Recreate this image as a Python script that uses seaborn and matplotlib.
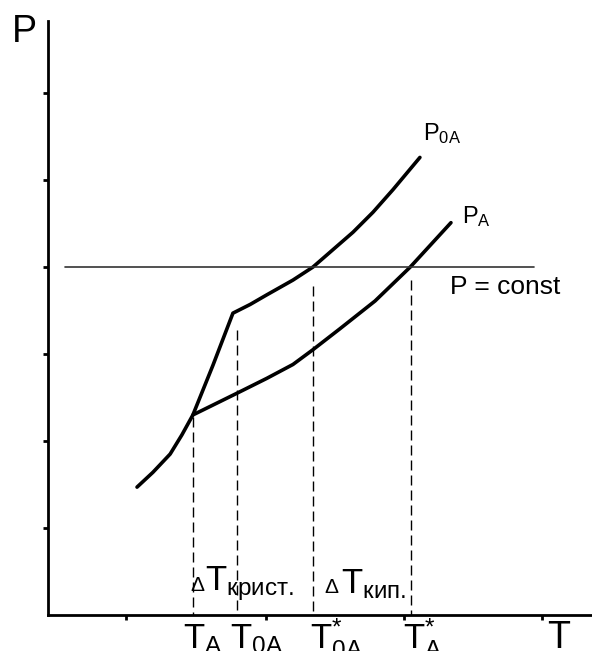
import numpy as np
import pandas as pd
import matplotlib
matplotlib.use("Agg")
import matplotlib.pyplot as plt
import seaborn as sns

# ==========================================
# DATA (T and P in arbitrary units)
# ==========================================

# solution vapour pressure curve P_A (includes the common low branch)
t_pa = [1.29, 1.52, 1.77, 1.94, 2.10, 2.74, 3.17, 3.55, 3.84, 4.23, 4.74, 5.25, 5.84]
p_pa = [1.47, 1.64, 1.85, 2.07, 2.30, 2.55, 2.72, 2.88, 3.05, 3.29, 3.61, 4.00, 4.51]

# pure solvent curve P_0A (starts from the branch point)
t_p0a = [2.10, 2.39, 2.68, 2.93, 3.17, 3.55, 3.84, 4.13, 4.42, 4.71, 5.00, 5.39]
p_p0a = [2.30, 2.87, 3.47, 3.57, 3.68, 3.85, 4.00, 4.20, 4.40, 4.63, 4.89, 5.26]

# P = const level and its extent
p_const = 4.0
t_const = [0.25, 7.04]

# characteristic temperatures (dashed drop lines)
t_marks = [2.10, 2.74, 3.84, 5.26]
p_marks_top = [2.28, 3.28, 3.78, 3.85]
mark_labels = [
    r"$T_{A}$",
    r"$T_{0A}$",
    r"$T^{*}_{0A}$",
    r"$T^{*}_{A}$",
]
mark_label_x = [1.96, 2.64, 3.80, 5.14]

# axis ticks
x_ticks = [1.13, 3.16, 5.16, 7.16]
y_ticks = [1, 2, 3, 4, 5, 6]

# ==========================================
# STYLE
# ==========================================

sns.set_style("white")

plt.rcParams["font.family"] = ["Liberation Sans", "DejaVu Sans"]
plt.rcParams["text.color"] = "black"
plt.rcParams["mathtext.fontset"] = "custom"
plt.rcParams["mathtext.rm"] = "Liberation Sans"
plt.rcParams["mathtext.it"] = "Liberation Sans"
plt.rcParams["mathtext.default"] = "rm"
plt.rcParams["lines.scale_dashes"] = False

fig = plt.figure(figsize=(5.92, 6.51), dpi=100)
ax = fig.add_axes([0.0811, 0.0553, 0.9189, 0.9124])

# ==========================================
# CURVES
# ==========================================

curves = pd.DataFrame({"T": t_pa, "P": p_pa})
curves0 = pd.DataFrame({"T": t_p0a, "P": p_p0a})

sns.lineplot(
    data=curves,
    x="T",
    y="P",
    color="black",
    linewidth=2.6,
    sort=False,
    estimator=None,
    ax=ax
)

sns.lineplot(
    data=curves0,
    x="T",
    y="P",
    color="black",
    linewidth=2.6,
    sort=False,
    estimator=None,
    ax=ax
)

ax.plot(
    t_const,
    [p_const, p_const],
    color="#333333",
    linewidth=1.2
)

for t, top in zip(t_marks, p_marks_top):
    ax.plot(
        [t, t],
        [top, 0],
        color="black",
        linewidth=1.0,
        linestyle=(0, (7.2, 3.6))
    )

# ==========================================
# TEXT
# ==========================================

ax.text(-0.52, 6.59, "P", fontsize=27, color="black", clip_on=False)
ax.text(7.23, -0.38, "T", fontsize=27, color="black", clip_on=False)

for x, lab in zip(mark_label_x, mark_labels):
    ax.text(x, -0.38, lab, fontsize=25, color="black", clip_on=False)

ax.text(5.43, 5.46, r"$P_{0A}$", fontsize=17, color="black")
ax.text(6.00, 4.51, r"$P_{A}$", fontsize=17, color="black")
ax.text(5.83, 3.69, "P = const", fontsize=19, color="black")

ax.text(2.07, 0.28, "Δ", fontsize=15, color="black")
ax.text(2.28, 0.28, r"$T_{крист.}$", fontsize=25, color="black")
ax.text(4.00, 0.25, "Δ", fontsize=15, color="black")
ax.text(4.24, 0.25, r"$T_{кип.}$", fontsize=25, color="black")

# ==========================================
# AXES
# ==========================================

ax.set_xlim(0, 7.884)
ax.set_ylim(0, 6.828)

ax.set_xticks(x_ticks)
ax.set_yticks(y_ticks)
ax.set_xticklabels([])
ax.set_yticklabels([])
ax.set_xlabel("")
ax.set_ylabel("")

ax.tick_params(
    axis="both",
    direction="out",
    length=3.5,
    width=2,
    color="black",
    bottom=True,
    left=True
)

sns.despine(ax=ax)

for side in ["left", "bottom"]:
    ax.spines[side].set_color("black")
    ax.spines[side].set_linewidth(2.0)

plt.savefig("out.png", dpi=100)
plt.close()
